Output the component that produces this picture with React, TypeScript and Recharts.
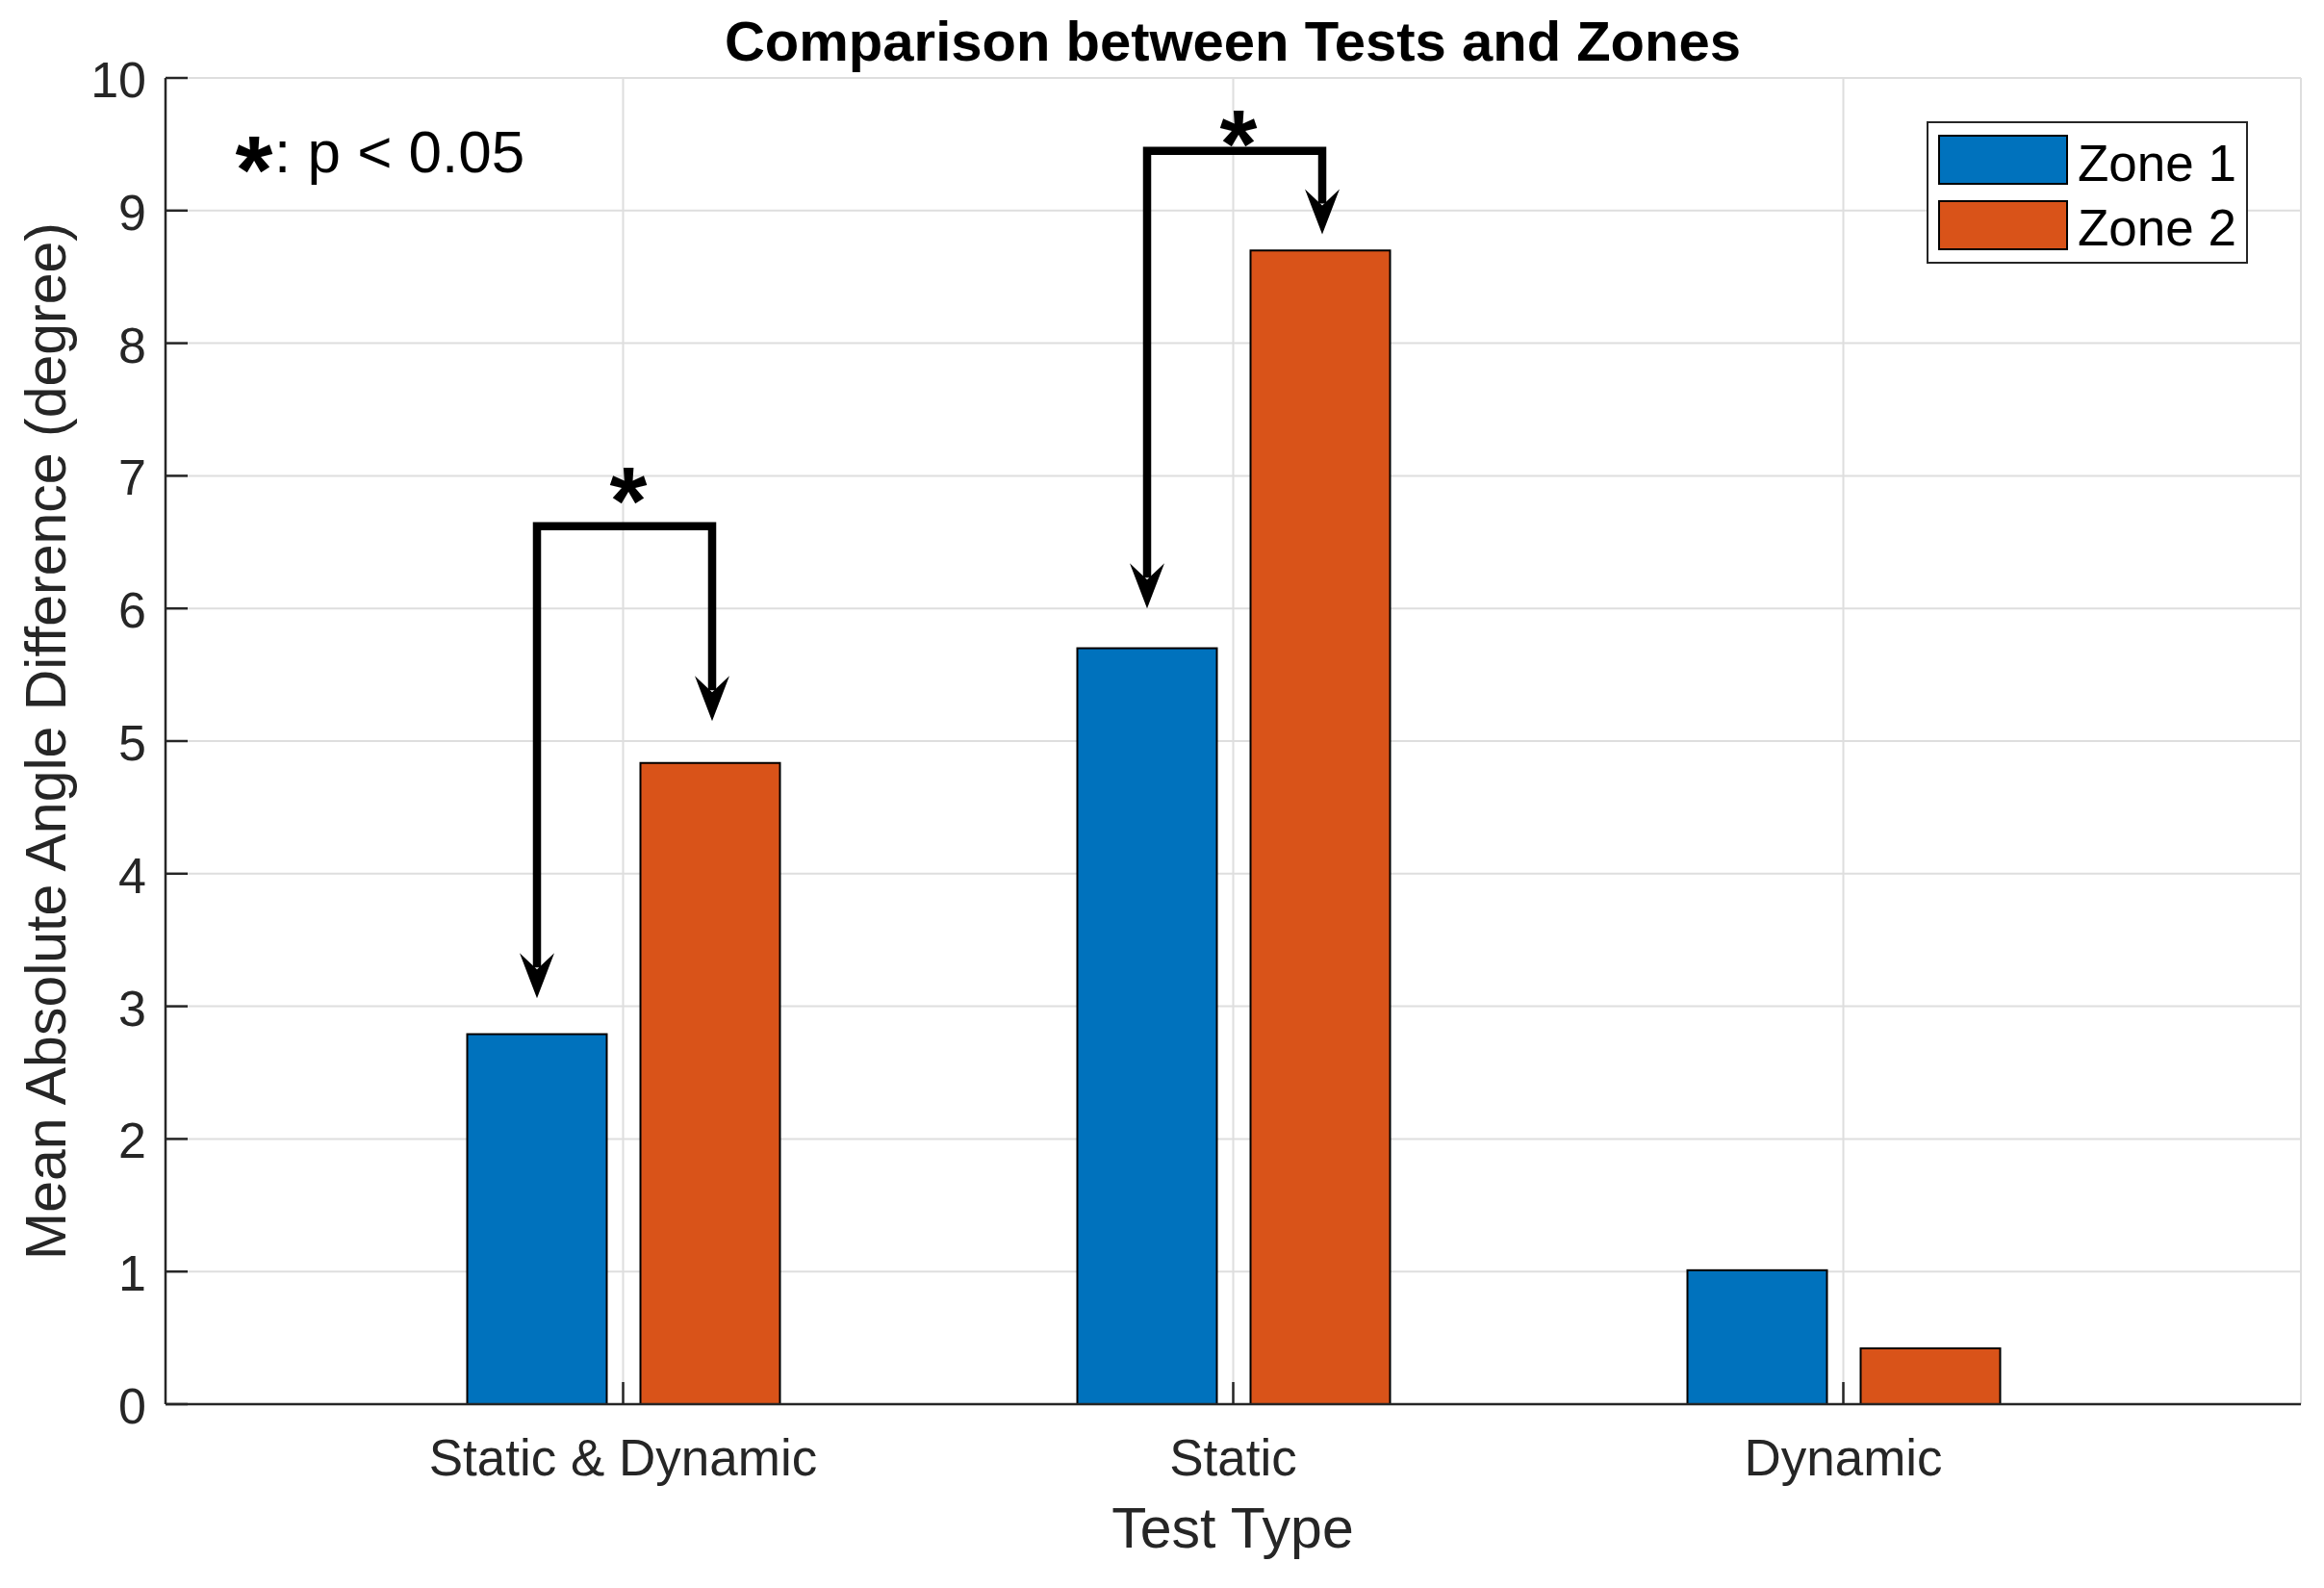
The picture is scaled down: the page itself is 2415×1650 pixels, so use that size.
import React from 'react'
import { BarChart, Bar, XAxis, YAxis, CartesianGrid, Legend } from 'recharts'

// test types and their x positions
const CATEGORIES = ['Static & Dynamic', 'Static', 'Dynamic']
const X_POS = [1, 2, 3]
// mean absolute angle difference (degree)
const ZONE1 = [2.79, 5.7, 1.01]
const ZONE2 = [4.835, 8.7, 0.42]
const Y_TICKS = [0, 1, 2, 3, 4, 5, 6, 7, 8, 9, 10]

// significance brackets (data units), null = none
const BRACKET_TOP = [6.62, 9.45, null]
const TIP_ZONE1 = [3.06, 6.0, null]
const TIP_ZONE2 = [5.15, 8.82, null]
const STAR_AT = [6.97, 9.66, null]

const W = 2415
const H = 1650
const FONT = '"Liberation Sans", Arial, Helvetica, sans-serif'
const AXIS = '#262626'
const BAR_SIZE = 145
const BAR_GAP = 35
const TICK_LEN = 23

const data = X_POS.map((x, i) => ({
  x,
  name: CATEGORIES[i],
  zone1: ZONE1[i],
  zone2: ZONE2[i],
}))

const arrowHead = (x: number, y: number) =>
  `M${x},${y} L${x - 18},${y - 47} L${x},${y - 30} L${x + 18},${y - 47} Z`

const Zone1Shape = (props: any) => {
  const { x, y, width, height, index, fill, payload } = props
  const rect = (
    <rect x={x} y={y} width={width} height={height} fill={fill} stroke="#000" strokeWidth={2} />
  )
  const top = BRACKET_TOP[index]
  if (top == null) return rect
  const base = y + height
  const k = height / payload.zone1
  const toY = (v: number) => base - v * k
  const xl = x + width / 2
  const xr = x + width + BAR_GAP + width / 2 + 2
  const yl = toY(TIP_ZONE1[index] as number)
  const yr = toY(TIP_ZONE2[index] as number)
  const yt = toY(top)
  const ys = toY(STAR_AT[index] as number)
  return (
    <g>
      {rect}
      <path
        d={`M${xl},${yl - 32} L${xl},${yt} L${xr},${yt} L${xr},${yr - 32}`}
        fill="none"
        stroke="#000"
        strokeWidth={8.5}
        strokeLinejoin="miter"
      />
      <path d={arrowHead(xl, yl)} fill="#000" />
      <path d={arrowHead(xr, yr)} fill="#000" />
      <text x={(xl + xr) / 2 + 4} y={ys + 56} textAnchor="middle" fontSize={100} fontWeight="bold" fontFamily={FONT} fill="#000">
        *
      </text>
    </g>
  )
}

const XTick = (props: any) => {
  const { x, y, payload } = props
  const i = X_POS.indexOf(payload.value)
  return (
    <g>
      <line x1={x} y1={y} x2={x} y2={y - TICK_LEN} stroke={AXIS} strokeWidth={2.5} />
      <text x={x} y={y + 74} textAnchor="middle" fontSize={53} fontFamily={FONT} fill={AXIS}>
        {CATEGORIES[i]}
      </text>
    </g>
  )
}

const YTick = (props: any) => {
  const { x, y, payload } = props
  return (
    <g>
      <line x1={x} y1={y} x2={x + TICK_LEN} y2={y} stroke={AXIS} strokeWidth={2.5} />
      <text x={x - 20} y={y + 20} textAnchor="end" fontSize={52} fontFamily={FONT} fill={AXIS}>
        {payload.value}
      </text>
    </g>
  )
}

const NoTick = () => <g />

const LegendBox = (props: any) => {
  const { payload } = props
  return (
    <svg width={334} height={148} style={{ display: 'block' }}>
      <rect x={1} y={1} width={332} height={146} fill="#fff" stroke={AXIS} strokeWidth={2} />
      {(payload || []).map((p: any, i: number) => (
        <g key={p.value}>
          <rect x={13} y={15 + i * 68} width={133} height={50} fill={p.color} stroke="#000" strokeWidth={2} />
          <text x={157} y={62 + i * 67} fontSize={53} fontFamily={FONT} fill="#000">
            {p.value}
          </text>
        </g>
      ))}
    </svg>
  )
}

export default function App() {
  return (
    <div style={{ position: 'absolute', left: 0, top: 0, width: W, height: H, background: '#fff' }}>
      <BarChart
        width={W}
        height={H}
        data={data}
        margin={{ top: 81, right: 24, bottom: 71, left: 52 }}
        barSize={BAR_SIZE}
        barGap={BAR_GAP}
      >
        <CartesianGrid stroke="#dedede" strokeWidth={2} />
        <XAxis
          dataKey="x"
          type="number"
          domain={[0.25, 3.75]}
          ticks={X_POS}
          height={120}
          tickSize={0}
          tickMargin={0}
          tickLine={false}
          tick={<XTick />}
          axisLine={{ stroke: AXIS, strokeWidth: 2.5 }}
          interval={0}
        />
        <XAxis
          xAxisId="top"
          dataKey="x"
          type="number"
          orientation="top"
          mirror
          domain={[0.25, 3.75]}
          ticks={X_POS}
          height={0}
          tickSize={TICK_LEN}
          tickLine={{ stroke: AXIS, strokeWidth: 2.5 }}
          tick={<NoTick />}
          axisLine={{ stroke: AXIS, strokeWidth: 2.5 }}
          interval={0}
        />
        <YAxis
          domain={[0, 10]}
          ticks={Y_TICKS}
          width={120}
          tickSize={0}
          tickMargin={0}
          tickLine={false}
          tick={<YTick />}
          axisLine={{ stroke: AXIS, strokeWidth: 2.5 }}
          interval={0}
        />
        <YAxis
          yAxisId="right"
          orientation="right"
          mirror
          domain={[0, 10]}
          ticks={Y_TICKS}
          width={0}
          tickSize={TICK_LEN}
          tickLine={{ stroke: AXIS, strokeWidth: 2.5 }}
          tick={<NoTick />}
          axisLine={{ stroke: AXIS, strokeWidth: 2.5 }}
          interval={0}
        />
        <Legend
          layout="horizontal"
          verticalAlign="middle"
          align="center"
          content={<LegendBox />}
          wrapperStyle={{ position: 'absolute', left: 2002, top: 126, width: 334, height: 148 }}
        />
        <Bar dataKey="zone1" name="Zone 1" fill="#0072BD" stroke="#000" strokeWidth={2} shape={Zone1Shape} isAnimationActive={false} />
        <Bar dataKey="zone2" name="Zone 2" fill="#D95319" stroke="#000" strokeWidth={2} isAnimationActive={false} />
      </BarChart>
      <svg
        width={W}
        height={H}
        style={{ position: 'absolute', left: 0, top: 0, pointerEvents: 'none' }}
        fontFamily={FONT}
      >
        <text x={1281} y={63} textAnchor="middle" fontSize={58} fontWeight="bold" fill="#000">
          Comparison between Tests and Zones
        </text>
        <text x={1281} y={1608} textAnchor="middle" fontSize={59} fill={AXIS}>
          Test Type
        </text>
        <text x={68} y={770} textAnchor="middle" fontSize={59} fill={AXIS} transform="rotate(-90 68 770)">
          Mean Absolute Angle Difference (degree)
        </text>
        <text x={264} y={211} textAnchor="middle" fontSize={100} fontWeight="bold" fill="#000">
          *
        </text>
        <text x={285} y={179} fontSize={62} fill="#000">
          : p &lt; 0.05
        </text>
      </svg>
    </div>
  )
}
